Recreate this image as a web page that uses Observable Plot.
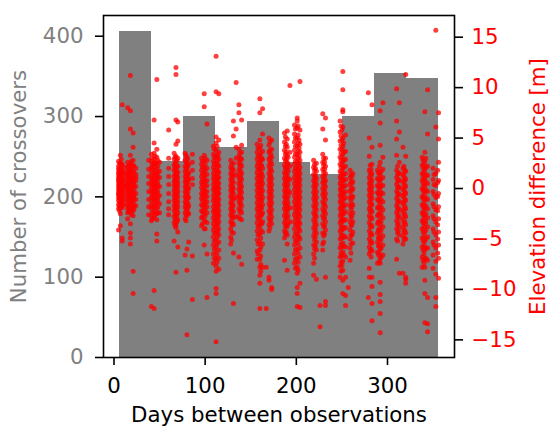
<!DOCTYPE html>
<html><head><meta charset="utf-8">
<script src="https://cdn.jsdelivr.net/npm/d3@7"></script>
<script src="https://cdn.jsdelivr.net/npm/@observablehq/plot@0.6"></script>
<style>
body{margin:0;background:#fff;}
#wrap{position:relative;width:549px;height:428px;}
#wrap svg{position:absolute;left:0;top:0;}
</style></head><body><div id="wrap"></div>
<script>
// Histogram of crossovers (days between observations)
const binStart = [6, 41, 76, 111, 146, 181, 216, 251, 286, 321];
const binEnd   = [41, 76, 111, 146, 181, 216, 251, 286, 321, 356];
const counts   = [406, 244, 300, 262, 294, 243, 228, 300, 353, 347];

// Tick labels
const countTicks = [0, 100, 200, 300, 400];
const elevTicks = [-15, -10, -5, 0, 5, 10, 15];
const dayTicks = [0, 100, 200, 300];

// Elevation differences [m] read per vertical stripe of days
const stripes = [
 [5, "2.7 2.2 1.9 1.4 1.1 0.7 0.4 0.1 -0.2 -0.5 -0.9 -1.2 -1.6 -2.0 -4.1 -0.6 1.6 0.9"],
 [6, "2.5 2.0 1.7 1.2 0.8 0.5 0.2 -0.1 -0.4 -0.7 -1.0 -1.4 -1.8 -2.2 0.3 -0.2"],
 [7, "3.3 2.5 2.0 1.6 1.3 0.9 0.5 0.2 -0.1 -0.4 -0.7 -1.0 -1.4 -1.8 -2.5 -3.7 0.0 1.2 -0.3"],
 [8, "2.9 2.3 1.8 1.4 1.1 0.7 0.4 0.0 -0.3 -0.6 -1.0 -1.3 -1.7 -0.1 0.6"],
 [9, "2.4 1.8 1.5 1.0 0.6 0.3 -0.3 -0.8 -1.1 -1.5 -1.9 -4.9 -5.2 8.3 0.8 0.1"],
 [11, "2.1 1.6 1.2 0.8 0.4 0.0 -0.4 -0.8 -1.2 -1.6 0.2"],
 [15, "8.0 2.6 2.1 1.7 1.3 1.0 0.6 0.2 -0.1 -0.5 -0.8 -1.2 -1.6 -2.0 -2.4 -3.0 0.4 1.5"],
 [16, "2.3 1.9 1.5 1.1 0.7 0.3 0.0 -0.3 -0.7 -1.1 -1.5 -1.9 -2.3"],
 [18, "11.2 7.7 5.9 3.3 2.4 1.9 1.5 1.1 0.8 0.4 0.0 -0.3 -0.7 -1.0 -1.4 -1.9 -2.3 -3.5 -4.4 -4.9 -5.5 0.9 -0.2"],
 [19, "2.7 2.2 1.8 1.3 0.9 0.5 0.1 -0.2 -0.6 -1.0 -1.4 -1.8 -2.2 -2.6"],
 [21, "5.5 4.1 2.8 2.3 1.7 1.2 0.9 0.5 0.1 -0.4 -0.9 -1.3 -1.8 -2.2 -2.7 -8.2 -10.4 0.3 -0.6"],
 [22, "2.2 1.6 1.1 0.6 0.2 -0.2 -0.7 -1.1 -1.6 -2.0"],
 [24, "2.0 1.4 0.8 0.2 -0.5 -1.1 -1.7 1.1"],
 [38, "2.8 1.9 1.2 0.5 -0.3 -1.1 -1.8 -2.6"],
 [41, "3.4 2.7 2.1 1.6 1.0 0.6 0.1 -0.4 -0.9 -1.5 -2.0 -2.7 -3.2 -11.7"],
 [42, "3.0 2.4 1.9 1.3 0.8 0.3 -0.2 -0.7 -1.2 -1.8 -2.4 -3.0"],
 [44, "6.8 4.5 3.5 2.9 2.4 1.8 1.3 0.8 0.3 -0.2 -0.6 -1.1 -1.7 -2.3 -2.9 -10.1 -11.9"],
 [45, "3.2 2.6 2.1 1.5 1.0 0.5 0.1 -0.4 -0.9 -1.4 -1.9 -2.6"],
 [47, "10.8 3.9 3.1 2.5 1.9 1.4 0.9 0.4 0.0 -0.5 -1.0 -1.4 -2.0 -2.5 -3.1 -4.5 -5.2"],
 [48, "2.8 2.2 1.6 1.1 0.6 0.2 -0.3 -0.8 -1.2 -1.8 -2.4"],
 [50, "2.6 1.7 1.1 0.2 -0.7 -1.5 -2.4"],
 [60, "5.8 3.0 2.0 1.2 0.4 -0.5 -1.3 -2.0 -2.6"],
 [66, "3.5 2.9 2.3 1.8 1.2 0.7 0.3 -0.2 -0.7 -1.2 -1.7 -2.2 -2.8 -3.4 -5.2"],
 [67, "3.1 2.5 2.0 1.4 0.9 0.5 0.0 -0.5 -1.0 -1.5 -2.0 -2.6 -3.2 -3.7"],
 [68, "12.0 11.3 6.8 4.4 3.2 2.6 2.0 1.5 1.0 0.5 0.0 -0.4 -0.9 -1.4 -1.9 -2.5 -3.0 -3.6 -3.9 -8.3"],
 [69, "2.8 2.2 1.7 1.3 0.8 0.3 -0.1 -0.6 -1.1 -1.6 -2.1 -2.7 -3.3"],
 [70, "6.6 4.7 3.0 2.2 1.6 1.1 0.6 0.2 -0.3 -0.8 -1.3 -1.8 -2.4 -3.1 -4.3 -5.8"],
 [78, "3.5 2.8 2.2 1.7 1.2 0.7 0.2 -0.3 -0.8 -1.3 -1.8 -2.4 -3.0 -6.6"],
 [79, "3.3 2.6 2.0 1.5 1.0 0.5 0.0 -0.5 -1.0 -1.5 -2.0 -2.6 -3.2"],
 [80, "3.1 2.5 1.9 1.3 0.8 0.4 -0.1 -0.6 -1.1 -1.6 -2.1 -2.7 -6.0 -8.1 -14.5"],
 [81, "2.9 2.2 1.6 1.1 0.6 0.1 -0.4 -0.9 -1.4 -1.9 -2.4"],
 [82, "2.4 1.5 0.9 0.0 -0.9 -1.7 -2.5 -5.3"],
 [86, "3.4 2.6 1.8 1.0 0.4 -11.0 -6.7"],
 [96, "3.0 2.4 1.8 1.2 0.6 0.1 -0.5 -1.0 -1.6 -2.2 -2.9 -3.7"],
 [97, "2.7 2.1 1.5 0.9 0.4 -0.2 -0.7 -1.2 -1.7 -2.3 -2.8 -3.5"],
 [99, "9.4 8.1 3.3 2.7 2.1 1.6 1.0 0.5 0.0 -0.4 -0.9 -1.4 -1.9 -2.5 -3.1 -4.0 -5.6"],
 [100, "3.0 2.4 1.8 1.3 0.7 0.2 -0.3 -0.7 -1.2 -1.6 -2.1 -2.7 -3.3 -4.0"],
 [102, "6.4 2.8 2.0 1.4 0.8 0.3 -0.3 -0.8 -1.3 -1.8 -2.4 -3.4 -6.5 -10.8"],
 [109, "4.2 3.4 2.7 2.1 1.5 1.0 0.4 -0.1 -0.7 -1.2 -1.8 -2.3 -2.9 -3.5 -4.1 -4.8 -5.6 -6.5 -7.4"],
 [110, "3.9 3.1 2.4 1.8 1.2 0.7 0.1 -0.4 -1.0 -1.5 -2.1 -2.6 -3.2 -3.8 -4.4 -5.2 -6.0 -6.9"],
 [112, "13.1 9.6 5.1 4.5 3.8 3.1 2.5 1.8 1.2 0.7 0.2 -0.3 -0.9 -1.4 -2.0 -2.6 -3.2 -3.8 -4.4 -5.1 -5.8 -6.3 -7.0 -7.7 -8.2 -9.9 -10.4 -15.2"],
 [113, "4.2 3.4 2.8 2.1 1.5 0.9 0.4 -0.1 -0.6 -1.2 -1.7 -2.3 -2.9 -3.5 -4.1 -4.8 -5.5 -6.6 -7.3"],
 [114, "3.2 2.4 1.7 1.1 0.6 0.1 -0.4 -0.9 -1.4 -1.9 -2.5 -3.0 -3.6 -4.3"],
 [115, "9.4 4.8 3.6 2.9 2.2 1.6 1.1 0.5 0.0 -0.5 -1.1 -1.6 -2.2 -2.7 -3.3 -4.0 -4.6 -5.3 -6.1 -6.9 -8.0"],
 [128, "2.8 2.1 1.5 0.9 0.3 -0.2 -0.8 -1.4 -2.0 -2.6 -3.3 -4.0 -4.8 -5.5"],
 [129, "2.4 1.8 1.2 0.6 0.0 -0.5 -1.1 -1.7 -2.3 -2.9 -3.6 -4.3 -5.1"],
 [130, "2.0 1.4 0.8 0.2 -0.3 -0.9 -1.5 -2.1 -2.7 -3.4"],
 [131, "6.7 5.2 2.5 1.8 1.2 0.6 0.0 -0.5 -1.1 -1.7 -2.3 -2.9 -3.6 -4.4 -6.4 -11.4"],
 [134, "10.5 5.9 4.1 3.0 1.4 -0.9 -2.8"],
 [137, "8.3 7.5 3.9 3.2 2.5 1.8 1.1 0.5 -0.1 -0.7 -1.3 -2.0 -2.8 -6.8"],
 [138, "3.5 2.8 2.1 1.4 0.8 0.2 -0.4 -1.0 -1.6 -2.3 -3.0"],
 [139, "3.0 2.4 1.7 1.1 0.5 -0.1 -0.8 -1.4 -2.1"],
 [140, "6.8 4.3 3.6 2.9 2.2 1.5 0.9 0.2 -0.4 -1.0 -1.7 -2.4 -3.1 -7.5"],
 [157, "4.4 3.6 2.9 2.2 1.6 1.0 0.4 -0.2 -0.8 -1.4 -2.0 -2.7 -3.4 -4.2 -5.1 -6.2 -7.0"],
 [158, "4.0 3.2 2.5 1.9 1.3 0.7 0.1 -0.5 -1.1 -1.7 -2.3 -3.0 -3.8 -4.6 -5.5 -6.5"],
 [160, "8.9 7.5 4.8 4.0 3.3 2.6 1.9 1.3 0.7 0.1 -0.5 -1.1 -1.7 -2.3 -3.0 -3.7 -4.5 -5.3 -6.1 -7.0 -7.8 -8.6 -9.4 -11.9"],
 [161, "4.3 3.5 2.8 2.2 1.6 1.0 0.4 -0.2 -0.8 -1.4 -2.0 -2.7 -3.4 -4.1 -4.9 -5.8 -6.7 -7.5 -8.2"],
 [162, "3.0 2.3 1.5 0.8 0.2 -0.5 -1.2 -1.9 -2.6 -3.5"],
 [163, "7.9 5.4 3.7 2.9 2.0 1.2 0.5 -0.2 -0.9 -1.6 -2.4 -3.3 -4.3 -5.5 -7.8"],
 [167, "-11.9 -7.8"],
 [170, "5.0 4.3 3.6 2.9 2.2 1.5 0.9 0.3 -0.3 -0.9 -1.5 -2.2 -2.9 -3.6 -4.2 -8.8 -9.1"],
 [171, "4.6 3.8 3.1 2.5 1.8 1.2 0.6 0.0 -0.6 -1.2 -1.8 -2.5 -3.2 -3.9"],
 [172, "3.4 2.7 2.0 1.3 0.7 0.1 -0.5 -1.1 -1.7 -2.4 -3.1"],
 [173, "4.8 3.9 3.1 2.4 1.7 1.0 0.4 -0.2 -0.8 -1.4 -2.1 -2.8 -3.5 -9.8 -10.0"],
 [187, "5.5 4.6 3.8 3.0 2.3 1.6 1.0 0.4 -0.2 -0.8 -1.4 -2.0 -2.7 -3.4 -4.2 -4.9 -7.1"],
 [188, "5.1 4.2 3.4 2.7 2.0 1.3 0.7 0.1 -0.5 -1.1 -1.7 -2.4 -3.1 -3.8 -4.5"],
 [189, "4.4 3.6 2.9 2.1 1.5 0.9 0.3 -0.3 -0.9 -1.5 -2.1 -2.8 -3.6 -4.3"],
 [190, "5.7 4.9 4.1 3.3 2.6 1.9 1.3 0.7 0.1 -0.5 -1.1 -1.7 -2.3 -3.0 -3.8 -4.6 -5.5 -8.1"],
 [191, "3.1 2.4 1.7 1.0 0.4 -0.2 -0.8 -1.4 -2.0 -2.7 -3.5"],
 [193, "10.2 3.6 2.2 0.9 -0.4 -1.9 -3.3"],
 [198, "6.3 5.4 4.6 3.8 3.1 2.4 1.7 1.1 0.5 -0.1 -0.7 -1.3 -1.9 -2.6 -3.3 -4.0 -4.8 -5.6 -6.5 -7.4"],
 [199, "5.9 5.0 4.2 3.4 2.7 2.0 1.4 0.8 0.2 -0.4 -1.0 -1.6 -2.3 -2.9 -3.6 -4.4 -5.2 -6.1 -7.0 -7.9"],
 [201, "7.0 6.7 6.0 5.0 4.2 3.4 2.7 2.0 1.4 0.8 0.2 -0.4 -1.0 -1.6 -2.2 -2.9 -3.6 -4.4 -5.2 -6.0 -6.9 -7.8 -8.4 -9.8 -10.4 -11.7"],
 [202, "6.2 5.3 4.5 3.7 3.0 2.3 1.7 1.1 0.5 -0.1 -0.7 -1.3 -1.9 -2.5 -3.2 -3.9 -4.7 -5.5 -6.4 -7.3 -8.1"],
 [203, "4.8 4.0 3.2 2.5 1.8 1.2 0.6 0.0 -0.6 -1.2 -1.8 -2.5 -3.3 -4.0 -4.8"],
 [204, "10.6 5.8 4.4 3.6 2.8 2.1 1.5 0.9 0.3 -0.3 -0.9 -1.5 -2.1 -2.8 -3.5 -4.2 -5.0 -5.9 -6.8 -9.4 -11.8"],
 [219, "2.8 2.1 1.4 0.8 0.2 -0.4 -1.0 -1.7 -2.4 -3.1 -3.9 -4.7 -5.6 -6.5 -7.4 -8.6"],
 [220, "2.4 1.8 1.1 0.5 -0.1 -0.7 -1.3 -2.0 -2.7 -3.5 -4.3 -5.1 -6.0 -6.9"],
 [221, "2.0 1.3 0.7 0.1 -0.6 -1.2 -1.8 -2.5 -3.2 -4.0 -4.8 -5.7"],
 [222, "2.5 1.7 1.0 0.4 -0.3 -0.9 -1.5 -2.1 -2.8 -3.6 -4.4 -5.3 -6.1 -9.0"],
 [226, "-13.7 -11.6"],
 [229, "7.4 5.9 3.4 2.6 1.9 1.2 0.6 0.0 -0.6 -1.3 -2.0 -2.7 -3.5 -4.4 -5.5 -6.1"],
 [230, "3.0 2.3 1.6 0.9 0.3 -0.3 -0.9 -1.6 -2.3 -3.0 -3.8 -4.7 -5.3"],
 [231, "2.6 1.9 1.2 0.6 -0.1 -0.8 -1.5 -2.2 -2.9 -3.7 -4.5"],
 [232, "7.0 4.8 3.0 2.2 1.5 0.8 0.2 -0.5 -1.1 -1.8 -2.5 -3.3 -4.1 -8.8 -11.2 -11.6"],
 [248, "6.7 5.6 4.7 3.9 3.1 2.4 1.7 1.1 0.5 -0.1 -0.7 -1.3 -2.0 -2.7 -3.4 -4.2 -5.0 -5.9 -6.8 -7.7 -8.8"],
 [249, "6.2 5.2 4.3 3.5 2.8 2.1 1.4 0.8 0.2 -0.4 -1.0 -1.7 -2.4 -3.1 -3.8 -4.6 -5.5 -6.4 -7.3 -8.2"],
 [250, "5.8 4.8 3.9 3.1 2.4 1.7 1.1 0.5 -0.1 -0.7 -1.3 -2.0 -2.6 -3.3 -4.1 -4.9 -5.8 -6.7 -7.6"],
 [251, "11.6 9.8 7.8 7.6 6.1 5.0 4.2 3.4 2.7 2.0 1.4 0.8 0.2 -0.4 -1.0 -1.6 -2.3 -3.0 -3.8 -4.6 -5.4 -6.3 -7.2 -8.1 -9.1 -10.4"],
 [252, "4.5 3.6 2.8 2.1 1.4 0.8 0.2 -0.5 -1.1 -1.8 -2.5 -3.2 -4.0 -4.8 -5.7 -6.6"],
 [254, "5.3 3.7 2.9 2.2 1.5 0.9 0.3 -0.3 -0.9 -1.6 -2.3 -3.1 -3.9 -4.8 -5.8 -6.8 -8.8 -10.6 -11.6"],
 [257, "-9.8"],
 [259, "1.8 1.1 0.4 -0.3 -1.0 -1.7 -2.5 -3.3 -4.1 -5.0 -5.9 -7.1"],
 [260, "1.4 0.7 0.0 -0.7 -1.4 -2.1 -2.9 -3.7 -4.6 -5.5 -6.4"],
 [261, "1.2 0.5 -0.2 -1.0 -1.8 -2.7 -3.6 -4.6"],
 [262, "1.5 0.7 0.0 -0.8 -1.6 -2.4 -3.3 -4.3 -5.4"],
 [279, "9.5 -10.8"],
 [280, "5.0 3.2 1.8 1.1 0.5 -0.1 -0.7 -1.3 -2.0 -2.7 -3.4 -4.2 -5.0 -5.8 -6.5 -7.9 -8.8"],
 [281, "2.3 1.5 0.8 0.2 -0.4 -1.0 -1.7 -2.3 -3.0 -3.8 -4.6 -5.4 -6.2"],
 [282, "1.9 1.2 0.5 -0.1 -0.7 -1.4 -2.1 -2.8 -3.6 -4.4 -5.2 -6.0 -6.8"],
 [283, "8.3 4.1 2.4 1.5 0.8 0.2 -0.4 -1.0 -1.6 -2.3 -3.0 -3.8 -4.6 -5.4 -6.2 -8.8 -9.7 -11.4 -13.1"],
 [289, "1.8 1.0 0.3 -0.4 -1.1 -1.9 -2.7 -3.5 -4.4 -5.3 -6.3 -7.4"],
 [290, "1.6 0.9 0.2 -0.5 -1.2 -1.9 -2.6 -3.3 -4.1 -4.9 -5.7 -6.6"],
 [291, "2.2 1.4 0.6 -0.1 -0.8 -1.6 -2.4 -3.2 -4.0 -4.8 -5.6 -6.4 -7.2"],
 [292, "7.7 6.5 4.3 2.6 1.5 0.8 0.1 -0.6 -1.3 -2.0 -2.8 -3.6 -4.4 -5.2 -6.0 -6.9 -7.4 -9.3 -10.5 -11.2 -12.4 -14.3"],
 [293, "1.7 1.0 0.3 -0.4 -1.1 -1.8 -2.5 -3.3 -4.1 -5.0 -5.9 -6.8"],
 [295, "8.5 3.1 1.9 1.1 0.3 -0.5 -1.3 -2.1 -2.9 -3.8 -4.7 -5.6 -6.6"],
 [310, "9.9 6.7 4.9 3.3 1.8 1.1 0.4 -0.3 -1.0 -1.7 -2.4 -3.2 -4.0 -5.0 -7.0"],
 [311, "2.2 1.4 0.7 0.0 -0.7 -1.4 -2.1 -2.8 -3.6 -4.4 -5.2"],
 [312, "1.6 0.9 0.2 -0.5 -1.2 -1.9 -2.6 -3.4 -4.2"],
 [313, "8.5 5.6 2.6 1.5 0.8 0.1 -0.6 -1.3 -2.1 -2.9 -3.8 -4.6 -8.4"],
 [317, "4.1 2.0 1.3 0.6 -0.1 -0.8 -1.5 -2.3 -3.1 -3.9 -4.7 -5.5 -8.4"],
 [318, "2.2 1.5 0.8 0.1 -0.6 -1.3 -2.0 -2.7 -3.5 -4.3 -5.1"],
 [319, "1.8 1.1 0.4 -0.3 -1.0 -1.7 -2.5 -3.3 -4.1 -4.9"],
 [320, "11.3 3.2 1.7 0.9 0.2 -0.5 -1.2 -2.0 -2.8 -3.6 -4.4 -5.0 -9.4 -9.0 -8.8"],
 [338, "3.1 2.3 1.5 0.8 0.0 -0.8 -1.6 -2.4 -3.2 -4.0 -4.9 -5.8 -6.8 -7.8"],
 [339, "2.8 2.0 1.2 0.5 -0.2 -1.0 -1.8 -2.6 -3.4 -4.3 -5.2 -6.1 -7.1"],
 [340, "2.4 1.6 0.9 0.2 -0.6 -1.4 -2.2 -3.0 -3.8 -4.7 -5.6 -6.5 -7.4"],
 [341, "7.6 3.6 2.7 1.9 1.1 0.4 -0.3 -1.1 -1.9 -2.7 -3.5 -4.3 -5.2 -6.1 -7.0 -7.8 -9.1 -10.4 -13.3"],
 [342, "3.0 2.1 1.4 0.7 -0.1 -0.9 -1.7 -2.5 -3.3 -4.1 -5.0 -5.9 -6.9"],
 [344, "9.8 5.4 2.2 1.3 0.5 -0.3 -1.1 -2.0 -2.9 -3.8 -4.8 -5.9 -7.1 -10.8 -13.4 -14.2"],
 [350, "2.0 0.9 -0.3 -1.5 -2.7 -4.0 -5.3 -6.6 -7.9"],
 [351, "1.4 0.4 -0.6 -1.8 -3.0 -4.3 -5.6"],
 [353, "15.7 6.1 1.5 0.3 -0.9 -2.1 -3.3 -4.6 -5.9 -7.2 -8.5 -10.8 -11.7"],
 [355, "1.8 0.6 -0.8 -2.2 -3.6 -5.0 -6.4"],
 [356, "7.5 4.9 2.6 0.8 -0.5 -1.8 -3.0 -4.3 -5.6 -6.9 -8.9"]
];

const bars = binStart.map((s, i) => ({x1: s, x2: binEnd[i], count: counts[i]}));
const points = stripes.flatMap(([day, s]) => s.trim().split(/\s+/).map(v => ({day, elev: +v})));

const W = 549, H = 428;
const common = {
  width: W, height: H,
  marginLeft: 103, marginRight: 95, marginTop: 15, marginBottom: 71,
  style: {fontFamily: "DejaVu Sans, sans-serif", fontSize: "21.3px", background: "transparent", overflow: "visible"}
};
const xDomain = [-11.5, 373.5];
const minus = d => d < 0 ? "\u2212" + Math.abs(d) : String(d);

const barPlot = Plot.plot({
  ...common,
  x: {domain: xDomain},
  y: {domain: [0, 425.8]},
  marks: [
    Plot.rectY(bars, {x1: "x1", x2: "x2", y: "count", fill: "#808080", inset: 0, shapeRendering: "crispEdges"}),
    Plot.axisX({ticks: dayTicks, tickSize: 8, stroke: "black", strokeWidth: 1.6, text: null, label: null}),
    Plot.axisX({ticks: dayTicks, tickSize: 0, tickPadding: 20, fill: "black", label: null, tickFormat: minus}),
    Plot.axisY({ticks: countTicks, tickSize: 8, stroke: "black", strokeWidth: 1.6, text: null, label: null}),
    Plot.axisY({ticks: countTicks, tickSize: 0, tickPadding: 20, fill: "#808080", label: null}),
    Plot.text(["Number of crossovers"], {frameAnchor: "left", dx: -84, rotate: -90, textAnchor: "middle", fill: "#808080", fontSize: 21.3}),
    Plot.text(["Days between observations"], {frameAnchor: "bottom", dy: 64, textAnchor: "middle", fill: "black", fontSize: 21.3})
  ]
});

const dotPlot = Plot.plot({
  ...common,
  x: {domain: xDomain, axis: null},
  y: {domain: [-16.75, 17.15]},
  marks: [
    Plot.dot(points, {x: "day", y: "elev", r: 2.5, fill: "red", fillOpacity: 0.75, stroke: "none"}),
    Plot.axisY({anchor: "right", ticks: elevTicks, tickSize: 8, stroke: "black", strokeWidth: 1.6, text: null, label: null}),
    Plot.axisY({anchor: "right", ticks: elevTicks, tickSize: 0, tickPadding: 17, fill: "red", label: null, tickFormat: minus}),
    Plot.text(["Elevation difference [m]"], {frameAnchor: "right", dx: 84, rotate: -90, textAnchor: "middle", fill: "red", fontSize: 21.3}),
    Plot.frame({stroke: "black", strokeWidth: 1.6})
  ]
});

const wrap = document.getElementById("wrap");
wrap.appendChild(barPlot);
wrap.appendChild(dotPlot);
</script>
</body></html>
